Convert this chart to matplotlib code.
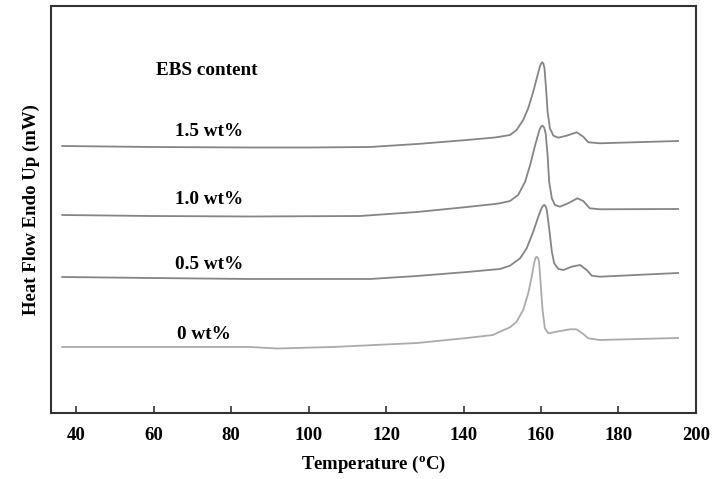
import matplotlib
matplotlib.use("Agg")
import matplotlib.pyplot as plt

#Data (temperature in C, heat flow in arbitrary units)
#--------------------------------------------------------
t_15 = [36.4, 59.1, 84.9, 100.0, 115.9, 128.0, 140.9, 148.1, 149.4, 152.0, 153.7, 155.4,
        156.7, 158.0, 158.9, 159.7, 160.0, 160.3, 160.6, 160.9, 161.3, 161.7, 162.3,
        163.2, 164.5, 166.6, 169.2, 170.9, 172.2, 175.2, 195.4]
y_15 = [267, 266, 265.5, 265.5, 266, 269, 273, 275.5, 276.3, 278, 283, 293,
        304.7, 321.3, 334.7, 346.3, 349.2, 350.7, 349.5, 344.7, 324.7, 301.3, 284.7,
        277.3, 275.3, 277.3, 280.7, 276.3, 270.7, 269.7, 272]

t_10 = [36.4, 59.1, 84.9, 113.3, 128.0, 140.9, 148.1, 149.4, 152.0, 154.1, 155.9, 157.2,
        158.5, 159.6, 160.0, 160.4, 160.8, 161.2, 161.7, 162.1, 162.8, 163.6, 164.9,
        167.0, 169.4, 170.9, 172.6, 175.2, 195.4]
y_10 = [198, 197, 196.5, 197, 201, 206, 209, 209.7, 212, 218, 231.3, 248,
        268, 283, 286.3, 287.3, 285.5, 279.7, 258, 231.3, 214.7, 208, 206.3,
        209.7, 214.7, 212, 204.7, 203.7, 204]

t_05 = [36.4, 59.1, 84.9, 115.9, 128.0, 140.9, 149.4, 152.0, 154.6, 156.3, 158.0, 159.3,
        160.2, 160.6, 160.9, 161.2, 161.5, 162.1, 162.8, 163.4, 164.5, 165.8, 167.9,
        170.1, 171.8, 173.1, 175.2, 195.4]
y_05 = [136, 135, 134, 134, 137, 141, 144, 147.3, 154.7, 164.7, 181.3, 196.3,
        205.3, 207.5, 208, 206.5, 203, 184.7, 161.3, 149.7, 144, 143, 146.3,
        148, 143, 137.3, 136.3, 140]

t_00 = [36.4, 59.1, 84.9, 91.9, 106.3, 128.0, 140.9, 147.6, 149.4, 152.0, 153.7, 155.4,
        156.7, 157.6, 158.3, 158.6, 158.9, 159.2, 159.5, 159.9, 160.4, 161.0, 161.9,
        164.0, 167.5, 169.2, 170.9, 172.2, 175.2, 195.4]
y_00 = [66, 66, 66, 64.5, 66, 70, 75, 78, 81.3, 85.7, 91.3, 103,
        119.7, 136.3, 151.3, 155, 156.3, 155, 151.3, 129.7, 103, 84.7, 79.7,
        81.3, 83.7, 83.7, 79, 74.7, 73, 75]

labels = ["1.5 wt%", "1.0 wt%", "0.5 wt%", "0 wt%"]
label_x = [74.3, 74.3, 74.3, 73.0]
label_y = [281, 213, 148, 78]
xticks = [40, 60, 80, 100, 120, 140, 160, 180, 200]

#Fonts
#--------------------------------------------------------
plt.rcParams['font.family'] = ['Liberation Serif', 'DejaVu Serif']
plt.rcParams['font.weight'] = 'bold'
plt.rcParams['mathtext.fontset'] = 'custom'
plt.rcParams['mathtext.rm'] = 'Liberation Serif'
plt.rcParams['mathtext.bf'] = 'Liberation Serif:bold'

#Plot
#--------------------------------------------------------
fig = plt.figure(figsize=(7.16, 4.79), dpi=100)
ax = fig.add_axes([0.0712, 0.1378, 0.9008, 0.8497])

ax.plot(t_15, y_15, color='#858585', lw=1.3)
ax.plot(t_10, y_10, color='#858585', lw=1.3)
ax.plot(t_05, y_05, color='#858585', lw=1.3)
ax.plot(t_00, y_00, color='#ababab', lw=1.3)

ax.text(73.8, 342, "EBS content", ha='center', va='center', fontsize=13.8, fontweight='bold')
for lab, lx, ly in zip(labels, label_x, label_y):
    ax.text(lx, ly, lab, ha='center', va='center', fontsize=13.8, fontweight='bold')

ax.set_xlim(33.5, 200)
ax.set_ylim(0, 407)
ax.set_xticks(xticks)
ax.set_yticks([])
ax.tick_params(axis='x', direction='in', length=5, width=1.2, labelsize=13.5, pad=10, color='#333333')
for lbl in ax.get_xticklabels():
    lbl.set_fontweight('bold')
for s in ax.spines.values():
    s.set_linewidth(1.5)
    s.set_color('#333333')

ax.set_xlabel(r"Temperature ($\mathbf{^{o}}$C)", fontsize=13.5, fontweight='bold', labelpad=7)
ax.set_ylabel("Heat Flow Endo Up (mW)", fontsize=13.5, fontweight='bold', labelpad=8)

fig.savefig("out.png", dpi=100)
